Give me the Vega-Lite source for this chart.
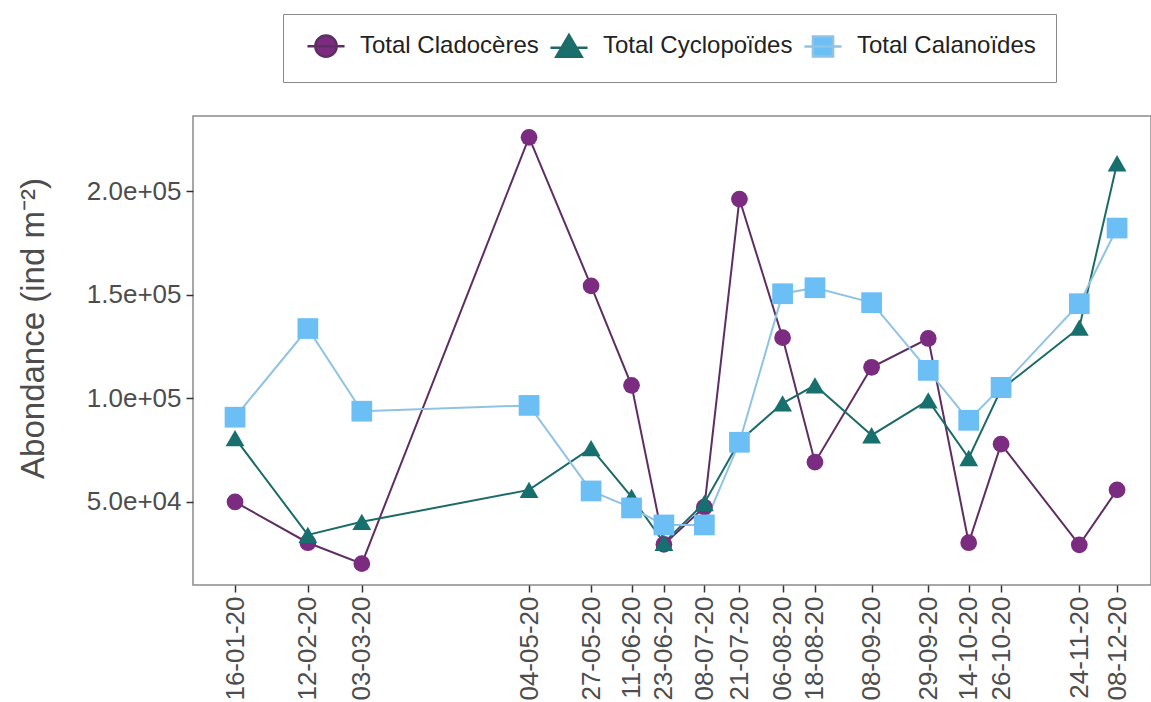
{
  "$schema": "https://vega.github.io/schema/vega-lite/v6.json",
  "width": 958,
  "height": 469,
  "autosize": {"type": "none"},
  "padding": {"left": 193, "top": 116, "right": 0, "bottom": 117},
  "background": "white",
  "config": {
    "font": "Liberation Sans",
    "view": {"stroke": "#8a8a8a", "strokeWidth": 1.5},
    "axis": {
      "grid": false,
      "domain": false,
      "ticks": true,
      "tickColor": "#333333",
      "tickSize": 7,
      "tickWidth": 1.5,
      "labelColor": "#4d4d4d",
      "labelFont": "Liberation Sans",
      "labelFontSize": 26,
      "titleColor": "#4d4d4d",
      "titleFont": "Liberation Sans",
      "titleFontWeight": "normal",
      "titleFontSize": 33
    }
  },
  "data": {
    "values": [
      {"date": "2020-01-16T00:00:00", "series": "Total Cladocères", "value": 50000},
      {"date": "2020-02-12T00:00:00", "series": "Total Cladocères", "value": 30300},
      {"date": "2020-03-03T00:00:00", "series": "Total Cladocères", "value": 20200},
      {"date": "2020-05-04T00:00:00", "series": "Total Cladocères", "value": 226000},
      {"date": "2020-05-27T00:00:00", "series": "Total Cladocères", "value": 154300},
      {"date": "2020-06-11T00:00:00", "series": "Total Cladocères", "value": 106300},
      {"date": "2020-06-23T00:00:00", "series": "Total Cladocères", "value": 29500},
      {"date": "2020-07-08T00:00:00", "series": "Total Cladocères", "value": 47500},
      {"date": "2020-07-21T00:00:00", "series": "Total Cladocères", "value": 196200},
      {"date": "2020-08-06T00:00:00", "series": "Total Cladocères", "value": 129300},
      {"date": "2020-08-18T00:00:00", "series": "Total Cladocères", "value": 69200},
      {"date": "2020-09-08T00:00:00", "series": "Total Cladocères", "value": 115000},
      {"date": "2020-09-29T00:00:00", "series": "Total Cladocères", "value": 128900},
      {"date": "2020-10-14T00:00:00", "series": "Total Cladocères", "value": 30300},
      {"date": "2020-10-26T00:00:00", "series": "Total Cladocères", "value": 77900},
      {"date": "2020-11-24T00:00:00", "series": "Total Cladocères", "value": 29300},
      {"date": "2020-12-08T00:00:00", "series": "Total Cladocères", "value": 55800},
      {"date": "2020-01-16T00:00:00", "series": "Total Cyclopoïdes", "value": 80800},
      {"date": "2020-02-12T00:00:00", "series": "Total Cyclopoïdes", "value": 34100},
      {"date": "2020-03-03T00:00:00", "series": "Total Cyclopoïdes", "value": 40400},
      {"date": "2020-05-04T00:00:00", "series": "Total Cyclopoïdes", "value": 55800},
      {"date": "2020-05-27T00:00:00", "series": "Total Cyclopoïdes", "value": 76000},
      {"date": "2020-06-11T00:00:00", "series": "Total Cyclopoïdes", "value": 52400},
      {"date": "2020-06-23T00:00:00", "series": "Total Cyclopoïdes", "value": 30300},
      {"date": "2020-07-08T00:00:00", "series": "Total Cyclopoïdes", "value": 49500},
      {"date": "2020-07-21T00:00:00", "series": "Total Cyclopoïdes", "value": 79300},
      {"date": "2020-08-06T00:00:00", "series": "Total Cyclopoïdes", "value": 97600},
      {"date": "2020-08-18T00:00:00", "series": "Total Cyclopoïdes", "value": 106300},
      {"date": "2020-09-08T00:00:00", "series": "Total Cyclopoïdes", "value": 82200},
      {"date": "2020-09-29T00:00:00", "series": "Total Cyclopoïdes", "value": 99000},
      {"date": "2020-10-14T00:00:00", "series": "Total Cyclopoïdes", "value": 71200},
      {"date": "2020-10-26T00:00:00", "series": "Total Cyclopoïdes", "value": 104300},
      {"date": "2020-11-24T00:00:00", "series": "Total Cyclopoïdes", "value": 134100},
      {"date": "2020-12-08T00:00:00", "series": "Total Cyclopoïdes", "value": 213500},
      {"date": "2020-01-16T00:00:00", "series": "Total Calanoïdes", "value": 90900},
      {"date": "2020-02-12T00:00:00", "series": "Total Calanoïdes", "value": 133700},
      {"date": "2020-03-03T00:00:00", "series": "Total Calanoïdes", "value": 93800},
      {"date": "2020-05-04T00:00:00", "series": "Total Calanoïdes", "value": 96600},
      {"date": "2020-05-27T00:00:00", "series": "Total Calanoïdes", "value": 55300},
      {"date": "2020-06-11T00:00:00", "series": "Total Calanoïdes", "value": 47100},
      {"date": "2020-06-23T00:00:00", "series": "Total Calanoïdes", "value": 38900},
      {"date": "2020-07-08T00:00:00", "series": "Total Calanoïdes", "value": 38900},
      {"date": "2020-07-21T00:00:00", "series": "Total Calanoïdes", "value": 78800},
      {"date": "2020-08-06T00:00:00", "series": "Total Calanoïdes", "value": 150500},
      {"date": "2020-08-18T00:00:00", "series": "Total Calanoïdes", "value": 153400},
      {"date": "2020-09-08T00:00:00", "series": "Total Calanoïdes", "value": 146200},
      {"date": "2020-09-29T00:00:00", "series": "Total Calanoïdes", "value": 113500},
      {"date": "2020-10-14T00:00:00", "series": "Total Calanoïdes", "value": 89400},
      {"date": "2020-10-26T00:00:00", "series": "Total Calanoïdes", "value": 105300},
      {"date": "2020-11-24T00:00:00", "series": "Total Calanoïdes", "value": 145700},
      {"date": "2020-12-08T00:00:00", "series": "Total Calanoïdes", "value": 182200}
    ]
  },
  "encoding": {
    "x": {
      "field": "date",
      "type": "temporal",
      "scale": {
        "domain": [
          {"year": 2019, "month": 12, "date": 31, "hours": 10},
          {"year": 2020, "month": 12, "date": 20, "hours": 14}
        ]
      },
      "axis": {
        "title": null,
        "format": "%d-%m-%y",
        "labelAngle": 270,
        "labelAlign": "right",
        "labelBaseline": "middle",
        "labelPadding": 4,
        "labelOverlap": false,
        "labelBound": false,
        "labelFlush": false,
        "values": [
          {"year": 2020, "month": 1, "date": 16},
          {"year": 2020, "month": 2, "date": 12},
          {"year": 2020, "month": 3, "date": 3},
          {"year": 2020, "month": 5, "date": 4},
          {"year": 2020, "month": 5, "date": 27},
          {"year": 2020, "month": 6, "date": 11},
          {"year": 2020, "month": 6, "date": 23},
          {"year": 2020, "month": 7, "date": 8},
          {"year": 2020, "month": 7, "date": 21},
          {"year": 2020, "month": 8, "date": 6},
          {"year": 2020, "month": 8, "date": 18},
          {"year": 2020, "month": 9, "date": 8},
          {"year": 2020, "month": 9, "date": 29},
          {"year": 2020, "month": 10, "date": 14},
          {"year": 2020, "month": 10, "date": 26},
          {"year": 2020, "month": 11, "date": 24},
          {"year": 2020, "month": 12, "date": 8}
        ]
      }
    },
    "y": {
      "field": "value",
      "type": "quantitative",
      "scale": {"domain": [9900, 236300], "nice": false, "zero": false},
      "axis": {
        "title": "Abondance (ind m⁻²)",
        "titlePadding": 36,
        "titleY": 212,
        "values": [50000, 100000, 150000, 200000],
        "labelExpr": "replace(format(datum.value, '.1e'), 'e+', 'e+0')",
        "labelPadding": 5
      }
    }
  },
  "layer": [
    {
      "mark": {"type": "line", "strokeWidth": 2},
      "encoding": {
        "color": {
          "field": "series",
          "type": "nominal",
          "scale": {
            "domain": ["Total Cladocères", "Total Cyclopoïdes", "Total Calanoïdes"],
            "range": ["#5e2e63", "#1c6b69", "#8fc3e3"]
          },
          "legend": null
        },
        "detail": {"field": "series"}
      }
    },
    {
      "mark": {"type": "point", "filled": true, "opacity": 1, "strokeWidth": 0},
      "encoding": {
        "color": {
          "field": "series",
          "type": "nominal",
          "scale": {
            "domain": ["Total Cladocères", "Total Cyclopoïdes", "Total Calanoïdes"],
            "range": ["#7b2c80", "#17706e", "#6cbff5"]
          },
          "legend": null
        },
        "shape": {
          "field": "series",
          "type": "nominal",
          "scale": {
            "domain": ["Total Cladocères", "Total Cyclopoïdes", "Total Calanoïdes"],
            "range": ["circle", "triangle-up", "square"]
          },
          "legend": null
        },
        "size": {
          "field": "series",
          "type": "nominal",
          "scale": {
            "domain": ["Total Cladocères", "Total Cyclopoïdes", "Total Calanoïdes"],
            "range": [280, 430, 270]
          },
          "legend": null
        }
      }
    },
    {
      "mark": {"type": "point", "filled": true, "opacity": 1, "size": 0, "strokeWidth": 0},
      "encoding": {
        "fill": {
          "field": "series",
          "type": "nominal",
          "title": null,
          "scale": {
            "domain": ["Total Cladocères", "Total Cyclopoïdes", "Total Calanoïdes"],
            "range": ["#7b2c80", "#17706e", "#6cbff5"]
          },
          "legend": {
            "orient": "none",
            "legendX": 90,
            "legendY": -102,
            "direction": "horizontal",
            "title": null,
            "padding": 20,
            "strokeColor": "#8a8a8a",
            "fillColor": "white",
            "symbolSize": 450,
            "symbolStrokeWidth": 2.5,
            "symbolOpacity": 1,
            "symbolOffset": 11,
            "labelOffset": 22,
            "labelFont": "Liberation Sans",
            "labelFontSize": 24,
            "labelColor": "#222222",
            "labelLimit": 400,
            "columnPadding": 6
          }
        },
        "stroke": {
          "field": "series",
          "type": "nominal",
          "title": null,
          "scale": {
            "domain": ["Total Cladocères", "Total Cyclopoïdes", "Total Calanoïdes"],
            "range": ["#5e2e63", "#1c6b69", "#8fc3e3"]
          }
        },
        "shape": {
          "field": "series",
          "type": "nominal",
          "title": null,
          "scale": {
            "domain": ["Total Cladocères", "Total Cyclopoïdes", "Total Calanoïdes"],
            "range": [
              "M-1.75,0H1.75M1,0A1,1 0 1 1 -1,0A1,1 0 1 1 1,0Z",
              "M-1.75,0.15H1.75M0,-1.05L1.2,1L-1.2,1Z",
              "M-1.75,0H1.75M-0.95,-0.95H0.95V0.95H-0.95Z"
            ]
          }
        }
      }
    }
  ],
  "resolve": {
    "scale": {"color": "independent", "shape": "independent", "size": "independent", "fill": "independent", "stroke": "independent"}
  }
}
